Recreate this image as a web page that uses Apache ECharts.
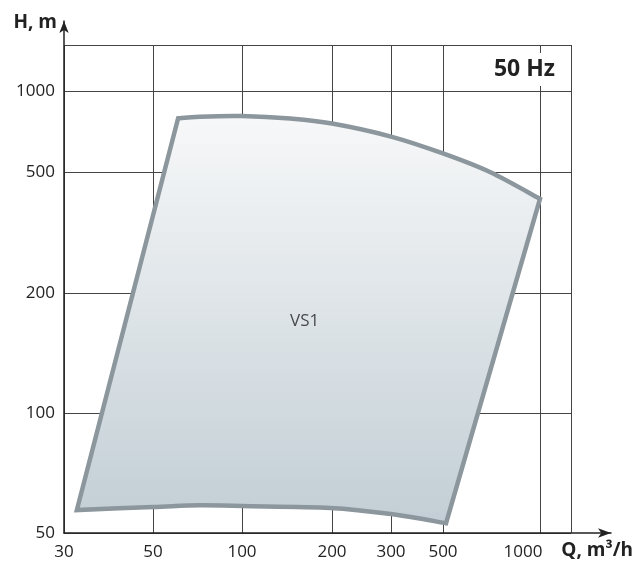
<!DOCTYPE html>
<html lang="en">
<head>
    <meta charset="UTF-8">
    <title>VS1 50 Hz</title>
    <script src="https://cdn.jsdelivr.net/npm/echarts@6/dist/echarts.min.js"></script>
    <style>
        html, body { margin: 0; padding: 0; background: #fff; }
        #chart_main { width: 636px; height: 563px; }
    </style>
</head>
<body>
<div id="chart_main"></div>
<script>
  // tick labels
  var qTicks = [30, 50, 100, 200, 300, 500, 1000];
  var hTicks = [50, 100, 200, 500, 1000];

  // VS1 field outline, Q in m3/h, H in m
  var topQ = [60.8, 72, 100, 145, 200, 300, 500, 699, 1000];
  var topH = [792, 803, 807, 790, 757, 677, 586, 500, 408];
  var bottomQ = [511, 300, 197, 100, 72, 50, 32.3];
  var bottomH = [52.9, 55.8, 57.8, 58.4, 58.7, 58.1, 57.1];

  var labelQ = [162];
  var labelH = [170];
  var labelText = ['VS1'];

  // the sheet is not a true log scale: each step has its own length
  var qPos = [0, 89, 178, 268, 327, 379, 476];
  var hPos = [0, 120, 240, 361, 442];
  var qEnd = 507, hEnd = 488;

  function toAxis(v, ticks, pos) {
    var i = 0;
    while (i < ticks.length - 2 && v > ticks[i + 1]) i++;
    var f = Math.log(v / ticks[i]) / Math.log(ticks[i + 1] / ticks[i]);
    return pos[i] + f * (pos[i + 1] - pos[i]);
  }

  var topPts = topQ.map(function(q, k) {
    return [toAxis(q, qTicks, qPos), toAxis(topH[k], hTicks, hPos)];
  });
  var bottomPts = bottomQ.map(function(q, k) {
    return [toAxis(q, qTicks, qPos), toAxis(bottomH[k], hTicks, hPos)];
  });

  // smooth run through pixel points (catmull-rom as cubic bezier)
  function curvePath(p) {
    var d = '';
    for (var i = 0; i < p.length - 1; i++) {
      var p0 = p[i - 1] || p[i], p1 = p[i], p2 = p[i + 1], p3 = p[i + 2] || p[i + 1];
      var c1 = [p1[0] + (p2[0] - p0[0]) / 6, p1[1] + (p2[1] - p0[1]) / 6];
      var c2 = [p2[0] - (p3[0] - p1[0]) / 6, p2[1] - (p3[1] - p1[1]) / 6];
      d += ' C' + c1[0] + ',' + c1[1] + ' ' + c2[0] + ',' + c2[1] + ' ' + p2[0] + ',' + p2[1];
    }
    return d;
  }

  var font = 'Open Sans';
  var myChart = echarts.init(document.getElementById('chart_main'));
  var option = {
    animation: false,
    title: {
      text: '50 Hz',
      right: 78,
      top: 53,
      padding: [4, 3],
      backgroundColor: '#fff',
      textStyle: { fontFamily: font, fontSize: 23, fontWeight: 'bold', color: '#222', lineHeight: 25 }
    },
    grid: [
      { left: 64, top: 45, width: qEnd, height: hEnd },
      { left: 64, right: 24, top: 21, bottom: 30 }
    ],
    xAxis: [
      {
        gridIndex: 0, type: 'value', min: 0, max: qEnd,
        axisLine: { show: false },
        axisTick: { show: false, customValues: qPos.concat([qEnd]) },
        axisLabel: {
          customValues: qPos,
          margin: 11,
          fontFamily: font, fontSize: 17, color: '#222',
          formatter: function(v) {
            var k = qPos.indexOf(v);
            var t = String(qTicks[k]);
            return k === qPos.length - 1 ? '{last|' + t + '}' : t;
          },
          rich: { last: { fontFamily: font, fontSize: 17, color: '#222', padding: [0, 34, 0, 0] } }
        },
        splitLine: { show: true, lineStyle: { color: '#444', width: 1 } }
      },
      {
        gridIndex: 1, type: 'value', min: 0, max: 1,
        axisLine: { show: true, onZero: false, symbol: ['none', 'arrow'], symbolSize: [7, 13],
          lineStyle: { color: '#222', width: 1.5 } },
        axisTick: { show: false }, axisLabel: { show: false }, splitLine: { show: false },
        name: 'Q, m³/h', nameLocation: 'end', nameGap: 22,
        nameTextStyle: { fontFamily: font, fontSize: 19, fontWeight: 'bold', color: '#222',
          align: 'right', verticalAlign: 'top', padding: [8, 0, 0, 0] }
      }
    ],
    yAxis: [
      {
        gridIndex: 0, type: 'value', min: 0, max: hEnd,
        axisLine: { show: false },
        axisTick: { show: false, customValues: hPos.concat([hEnd]) },
        axisLabel: {
          customValues: hPos,
          margin: 9,
          fontFamily: font, fontSize: 17, color: '#222',
          formatter: function(v) { return String(hTicks[hPos.indexOf(v)]); }
        },
        splitLine: { show: true, lineStyle: { color: '#444', width: 1 } }
      },
      {
        gridIndex: 1, type: 'value', min: 0, max: 1,
        axisLine: { show: true, onZero: false, symbol: ['none', 'arrow'], symbolSize: [7, 12],
          lineStyle: { color: '#222', width: 1.5 } },
        axisTick: { show: false }, axisLabel: { show: false }, splitLine: { show: false },
        name: 'H, m', nameLocation: 'end', nameGap: -2,
        nameTextStyle: { fontFamily: font, fontSize: 19, fontWeight: 'bold', color: '#222',
          align: 'right', verticalAlign: 'middle', padding: [0, 7, 0, 0] }
      }
    ],
    series: [
      {
        type: 'custom',
        xAxisIndex: 0, yAxisIndex: 0,
        data: topPts.concat(bottomPts),
        encode: { x: 0, y: 1 },
        renderItem: function(params, api) {
          if (params.dataIndex !== 0) return;
          var t = topPts.map(function(p) { return api.coord(p); });
          var b = bottomPts.map(function(p) { return api.coord(p); });
          var d = 'M' + t[0][0] + ',' + t[0][1] + curvePath(t) +
                  ' L' + b[0][0] + ',' + b[0][1] + curvePath(b) + ' Z';
          return {
            type: 'path',
            shape: { pathData: d },
            style: {
              fill: new echarts.graphic.LinearGradient(0, 0, 0, 1, [
                { offset: 0, color: '#f7f8f9' },
                { offset: 1, color: '#c2ced5' }
              ]),
              stroke: '#8c969d',
              lineWidth: 4.5,
              lineJoin: 'miter'
            }
          };
        },
        z: 2
      },
      {
        type: 'scatter',
        xAxisIndex: 0, yAxisIndex: 0,
        symbolSize: 0,
        data: labelQ.map(function(q, k) {
          return [toAxis(q, qTicks, qPos), toAxis(labelH[k], hTicks, hPos)];
        }),
        label: {
          show: true, position: 'inside',
          formatter: function(p) { return labelText[p.dataIndex]; },
          fontFamily: font, fontSize: 17, color: '#222'
        },
        z: 3
      }
    ]
  };
  myChart.setOption(option);
</script>
</body>
</html>
